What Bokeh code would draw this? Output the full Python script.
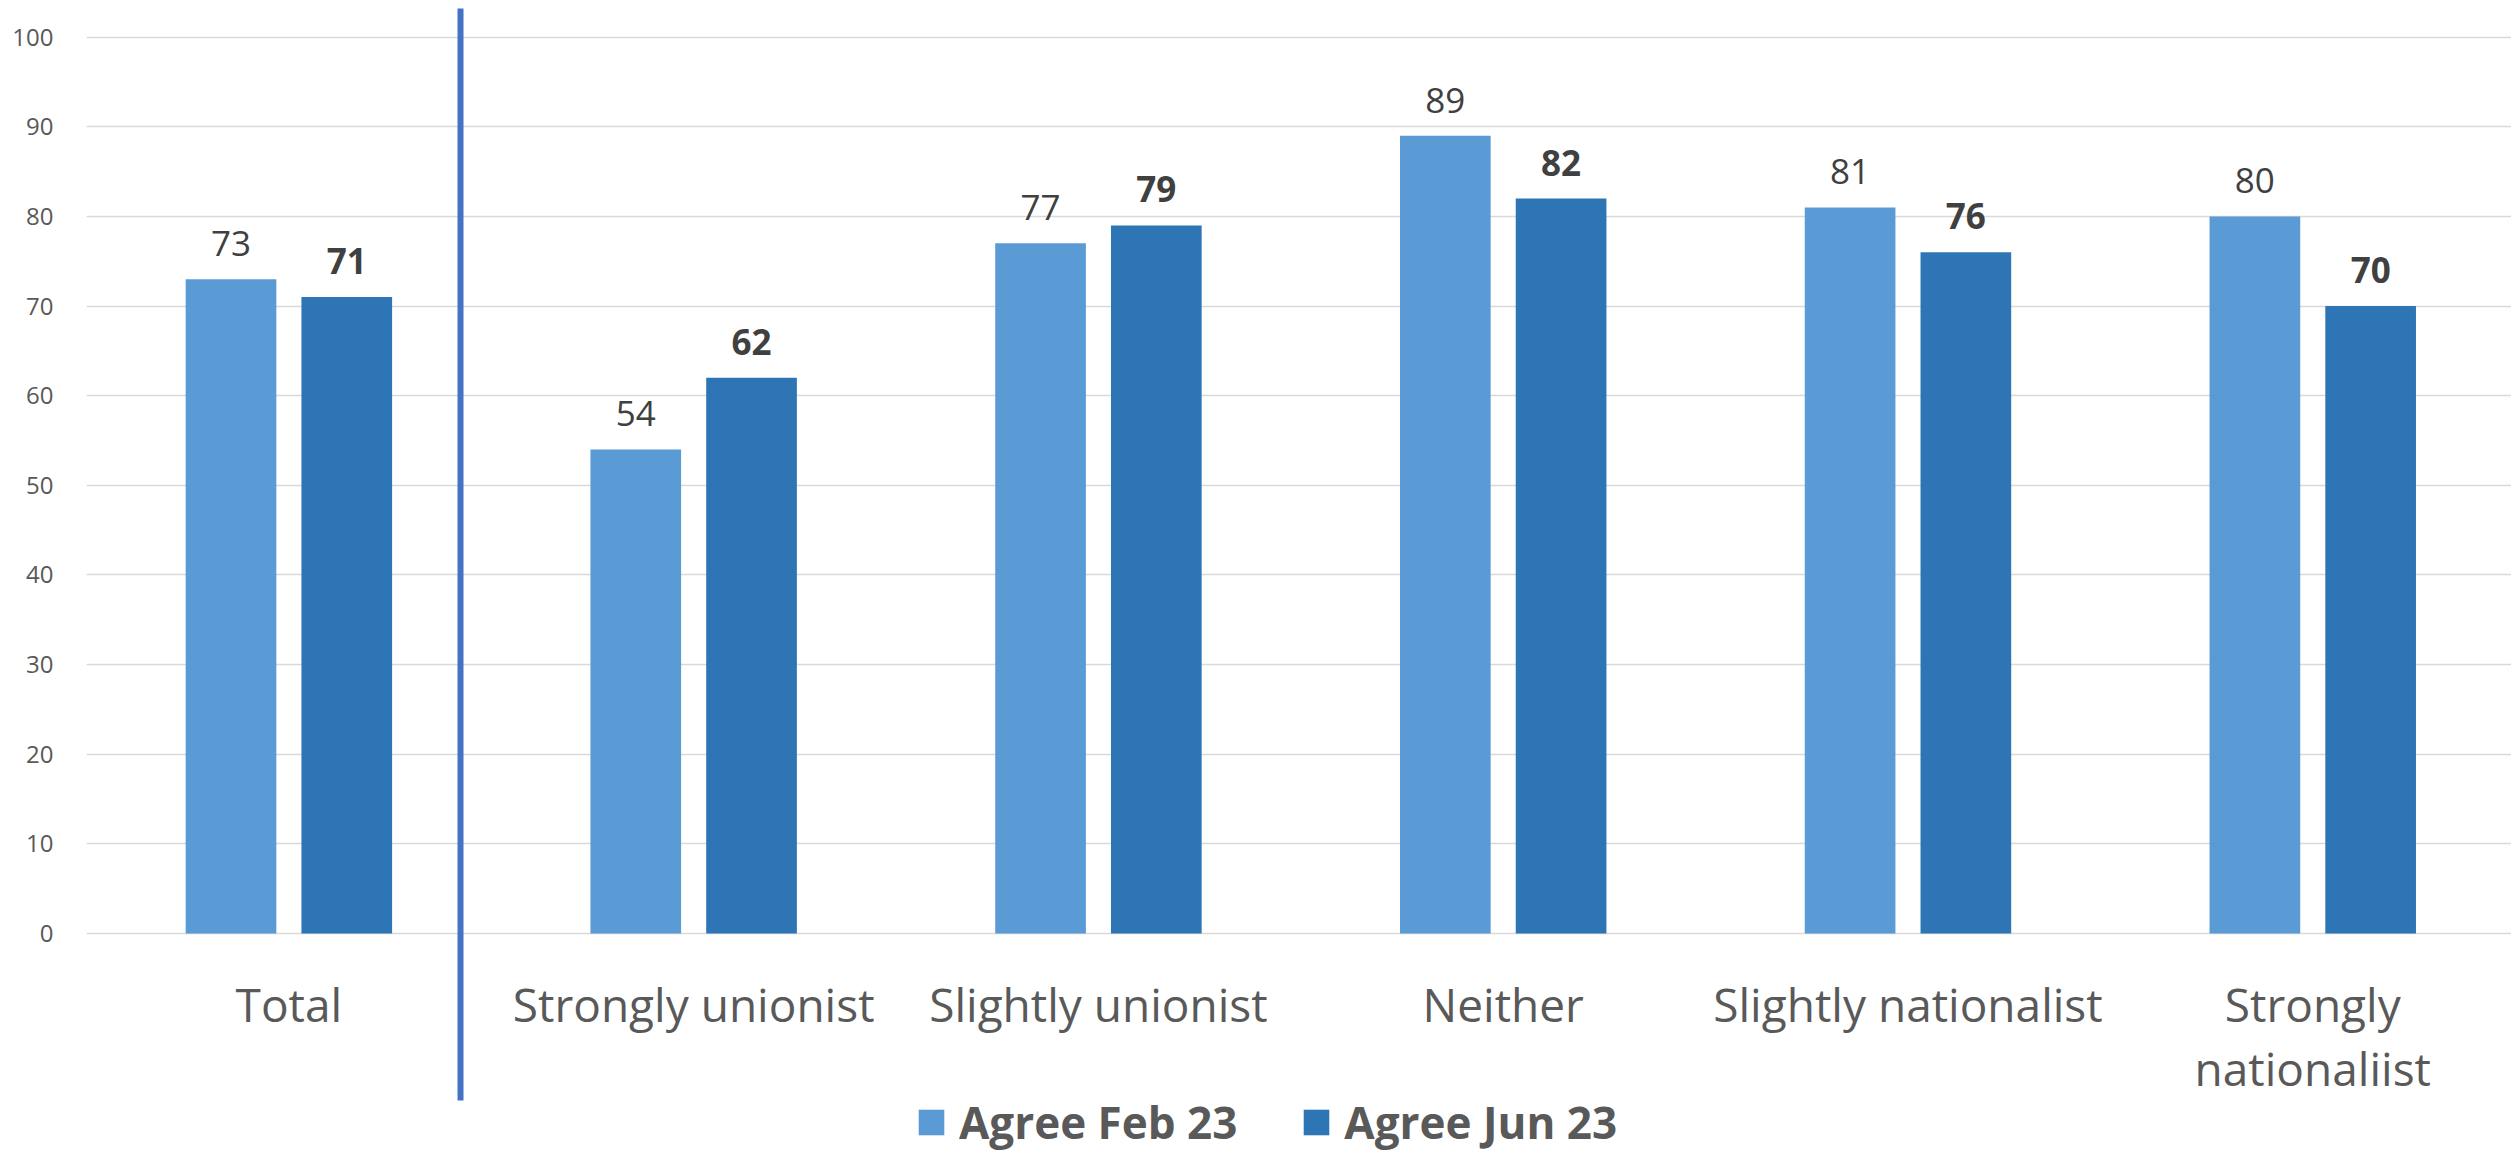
from bokeh.plotting import figure
from bokeh.models import ColumnDataSource, Range1d, FixedTicker, LabelSet, Legend, LegendItem
from bokeh.core.properties import value
from bokeh.embed import file_html
from bokeh.resources import INLINE

categories = ["Total", "Strongly unionist", "Slightly unionist", "Neither",
              "Slightly nationalist", "Strongly\nnationaliist"]
agree_feb = [73, 54, 77, 89, 81, 80]
agree_jun = [71, 62, 79, 82, 76, 70]
series_names = ["Agree Feb 23", "Agree Jun 23"]
y_ticks = [0, 10, 20, 30, 40, 50, 60, 70, 80, 90, 100]

LIGHT = "#5B9BD5"
DARK = "#2E75B6"
FONT = "Open Sans"
OFFSET = 0.143
BAR_W = 0.224

centers = [i + 0.5 for i in range(len(categories))]
src = ColumnDataSource(dict(
    x=centers,
    xf=[c - OFFSET for c in centers],
    xj=[c + OFFSET for c in centers],
    feb=agree_feb,
    jun=agree_jun,
    feb_lbl=[str(v) for v in agree_feb],
    jun_lbl=[str(v) for v in agree_jun],
    cat=categories,
))

p = figure(width=2511, height=1151, output_backend="svg", toolbar_location=None,
           x_range=Range1d(0, 5.991), y_range=Range1d(-24.32, 104.09),
           min_border_left=86, min_border_right=0, min_border_top=0, min_border_bottom=0)
p.outline_line_color = None
p.xaxis.visible = False
p.xgrid.grid_line_color = None

ticker = FixedTicker(ticks=y_ticks)
p.yaxis.ticker = ticker
p.ygrid.ticker = ticker
p.ygrid.grid_line_color = "#D9D9D9"
p.ygrid.grid_line_width = 1.5
p.yaxis.axis_line_color = None
p.yaxis.major_tick_line_color = None
p.yaxis.minor_tick_line_color = None
p.yaxis.major_label_standoff = 27
p.yaxis.major_label_text_font = FONT
p.yaxis.major_label_text_font_size = "24px"
p.yaxis.major_label_text_color = "#595959"

r1 = p.vbar(x="xf", top="feb", width=BAR_W, source=src, fill_color=LIGHT, line_color=None)
r2 = p.vbar(x="xj", top="jun", width=BAR_W, source=src, fill_color=DARK, line_color=None)

p.add_layout(LabelSet(x="xf", y="feb", text="feb_lbl", source=src, y_offset=23,
                      text_align="center", text_baseline="alphabetic",
                      text_font=value(FONT), text_font_size="35px", text_color="#404040"))
p.add_layout(LabelSet(x="xj", y="jun", text="jun_lbl", source=src, y_offset=23,
                      text_align="center", text_baseline="alphabetic",
                      text_font=value(FONT), text_font_size="35px", text_font_style="bold",
                      text_color="#404040"))

# separator line between Total and the groups
p.segment(x0=[0.924], y0=[103.2], x1=[0.924], y1=[-18.63], line_width=6,
          line_color="#4472C4", line_cap="butt")

# category labels
p.text(x="x", y=-4.36, text="cat", source=src, text_align="center", text_baseline="top",
       text_font=value(FONT), text_font_size="46px", text_color="#595959",
       text_line_height=1.04)

legend = Legend(items=[LegendItem(label=series_names[0], renderers=[r1]),
                       LegendItem(label=series_names[1], renderers=[r2])],
                orientation="horizontal", location=(829, -1),
                glyph_width=32, glyph_height=32, label_standoff=12, spacing=63,
                padding=0, margin=0, border_line_color=None, background_fill_alpha=0,
                label_text_font=FONT, label_text_font_size="44px",
                label_text_font_style="bold", label_text_color="#595959")
p.add_layout(legend)

open("out.html", "w").write(file_html(p, INLINE))
